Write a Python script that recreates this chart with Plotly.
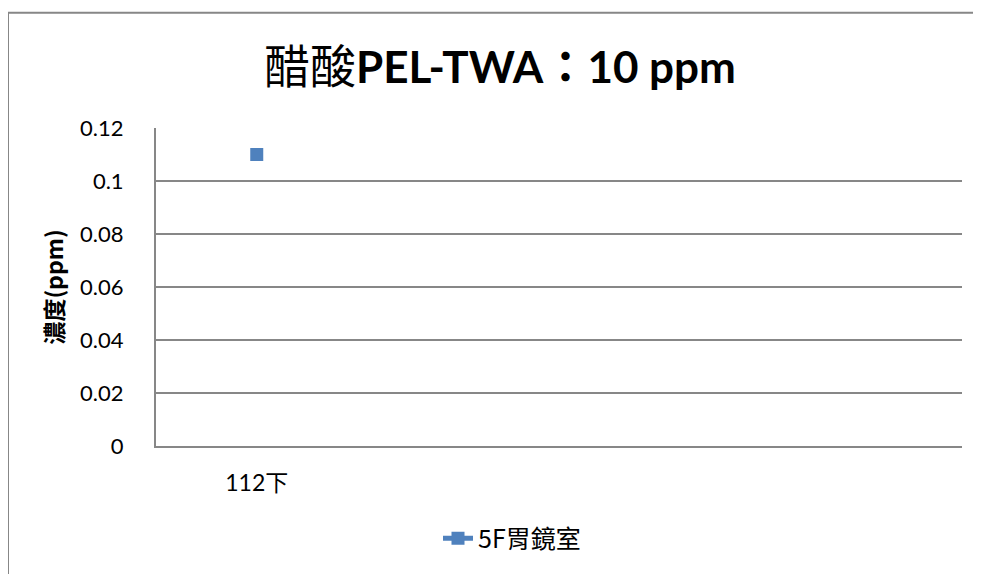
import plotly.graph_objects as go

categories = ["112下", "", "", ""]
series_name = "5F胃鏡室"
values = [0.11, None, None, None]
y_ticks = [0, 0.02, 0.04, 0.06, 0.08, 0.1, 0.12]
y_tick_labels = ["0", "0.02", "0.04", "0.06", "0.08", "0.1", "0.12"]

x_idx = list(range(len(categories)))
FONT = "Lato, 'Noto Sans CJK TC', sans-serif"
CJK = "'Noto Sans CJK TC', Lato, sans-serif"
GRID = "#878787"
BLUE = "#4f81bd"

OFF = 8  # page body margin
W, H = 981 - OFF, 574 - OFF
# target pixel positions in the screenshot
PL, PR, PT, PB = 156, 962, 128, 448
L, T = PL - OFF, PT - OFF
R = (OFF + W) - PR
B = (OFF + H) - PB
pw, ph = PR - PL, PB - PT

def px(x):
    return (x - PL) / pw

def py(y):
    return (PB - y) / ph

fig = go.Figure()
fig.add_trace(go.Scatter(
    x=x_idx, y=values, name=series_name, mode="lines+markers",
    line=dict(color=BLUE, width=5),
    marker=dict(symbol="square", size=13, color=BLUE),
))

fig.update_layout(
    width=W, height=H,
    margin=dict(l=L, r=R, t=T, b=B),
    paper_bgcolor="white", plot_bgcolor="white",
    font=dict(family=FONT, size=22, color="black"),
    title=dict(
        text="<span style=\"font-family:'Noto Sans CJK TC';font-weight:normal;font-size:46px\">醋酸</span><b>PEL-TWA：10 ppm</b>",
        x=(500 - OFF) / W, xanchor="center", xref="container",
        y=1 - (68 - OFF) / H, yanchor="middle",
        font=dict(family=FONT, size=44, color="black"),
    ),
    xaxis=dict(
        range=[-0.5, len(categories) - 0.5],
        tickvals=x_idx, ticktext=categories,
        showgrid=False, zeroline=False,
        showline=True, linecolor=GRID, linewidth=2,
        ticks="", ticklabelstandoff=15,
        tickfont=dict(family=FONT, size=23),
    ),
    yaxis=dict(
        range=[0, 0.12], tickvals=y_ticks, ticktext=y_tick_labels,
        showgrid=True, gridcolor=GRID, gridwidth=2,
        zeroline=False, showline=True, linecolor=GRID, linewidth=2,
        ticks="", ticklabelstandoff=26,
        tickfont=dict(family=FONT, size=22),
        title=dict(text="<b>濃度(ppm)</b>", font=dict(family=CJK, size=23), standoff=10),
    ),
    showlegend=True,
    legend=dict(
        orientation="h", x=px(512), xanchor="center", y=py(541), yanchor="middle",
        font=dict(family=CJK, size=25), bgcolor="rgba(0,0,0,0)",
    ),
    shapes=[dict(
        type="rect", xref="paper", yref="paper",
        x0=px(8), x1=px(995), y0=py(600), y1=py(12),
        line=dict(color=GRID, width=2), fillcolor="rgba(0,0,0,0)", layer="below",
    )],
)

fig.write_html("out.html")
